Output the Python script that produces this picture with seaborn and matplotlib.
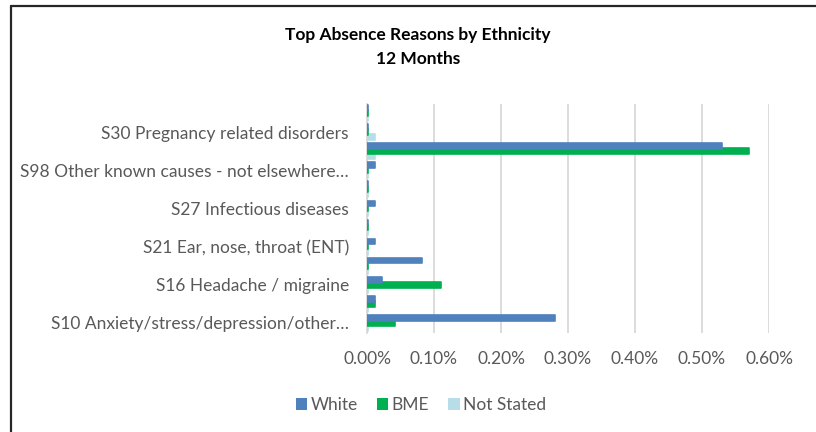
import matplotlib
matplotlib.use("Agg")
import matplotlib.pyplot as plt
from matplotlib.lines import Line2D
from matplotlib.patches import Patch
import seaborn as sns
import pandas as pd

# Absence reasons, top of chart first
reasons = [
    "S13 Cold, Cough, Flu - Influenza",
    "S30 Pregnancy related disorders",
    "S11 Back Problems",
    "S98 Other known causes - not elsewhere…",
    "S28 Injury, fracture",
    "S27 Infectious diseases",
    "S25 Gastrointestinal problems",
    "S21 Ear, nose, throat (ENT)",
    "S17 Benign and malignant tumours, cancers",
    "S16 Headache / migraine",
    "S12 Other musculoskeletal problems",
    "S10 Anxiety/stress/depression/other…",
]
# Which reasons get an axis label (every other one)
show_label = [False, True] * 6

# Absence rate (%) by ethnic group
white = [0.002, 0.002, 0.530, 0.012, 0.002, 0.012, 0.002, 0.012, 0.082, 0.022, 0.012, 0.281]
bme = [0.002, 0.002, 0.570, 0.002, 0.002, 0.002, 0.002, 0.002, 0.002, 0.111, 0.012, 0.042]
not_stated = [0.001, 0.012, 0.012, 0.001, 0.001, 0.001, 0.001, 0.001, 0.001, 0.001, 0.001, 0.001]

groups = ["White", "BME", "Not Stated"]
colors = ["#4f81bd", "#00b050", "#b7dee8"]
x_ticks = [0.0, 0.1, 0.2, 0.3, 0.4, 0.5, 0.6]

df = pd.DataFrame({
    "reason": reasons * 3,
    "value": white + bme + not_stated,
    "ethnicity": [g for g in groups for _ in reasons],
})

sns.set_theme(style="white")
plt.rcParams["font.family"] = ["Lato", "DejaVu Sans"]
FS = 12.5

fig = plt.figure(figsize=(8.16, 4.32), dpi=100)
ax = fig.add_axes([367 / 816, 1 - 332.5 / 432, (769 - 367) / 816, (332.5 - 103.5) / 432])

sns.barplot(
    data=df, x="value", y="reason", hue="ethnicity", orient="h",
    hue_order=groups, palette=colors, dodge=True, width=0.8,
    errorbar=None, legend=False, ax=ax, saturation=1,
)

# Overlapping clustered bars: widen each bar about its centre, White on top,
# with a soft same-colour rim
for container, col, z in zip(ax.containers, colors, [3.2, 3.1, 3.0]):
    for bar in container:
        c = bar.get_y() + bar.get_height() / 2
        h = 0.30
        bar.set_y(c - h / 2)
        bar.set_height(h)
        bar.set_zorder(z)
        bar.set_edgecolor(col)
        bar.set_linewidth(1.2)
        bar.set_joinstyle("round")

ax.set_xlim(0, 0.6)
ax.set_xticks(x_ticks)
ax.set_xticklabels([f"{t:.2f}%" for t in x_ticks])
ax.set_yticks(range(len(reasons)))
ax.set_yticklabels([r if s else "" for r, s in zip(reasons, show_label)])
ax.set_ylim(len(reasons) - 0.5, -0.5)
ax.set_xlabel("")
ax.set_ylabel("")

ax.grid(axis="x", color="#d9d9d9", linewidth=1.3, zorder=0)
ax.grid(axis="y", visible=False)
ax.set_axisbelow(True)
for side in ["top", "right", "bottom"]:
    ax.spines[side].set_visible(False)
ax.spines["left"].set_color("#d9d9d9")
ax.spines["left"].set_linewidth(1.3)
ax.tick_params(axis="x", length=0, pad=13, labelsize=FS, labelcolor="#595959")
ax.tick_params(axis="y", length=0, pad=13, labelsize=FS, labelcolor="#595959")

fig.text(418 / 816, 1 - 35 / 432, "Top Absence Reasons by Ethnicity", ha="center", va="center",
         fontsize=FS, fontweight="bold", color="#000000")
fig.text(418 / 816, 1 - 59 / 432, "12 Months", ha="center", va="center",
         fontsize=FS, fontweight="bold", color="#000000")

handles = [Patch(facecolor=c, edgecolor="none") for c in colors]
fig.legend(handles, groups, loc="center", bbox_to_anchor=(421 / 816, 1 - 405 / 432),
           ncol=3, frameon=False, fontsize=FS, labelcolor="#595959",
           handlelength=0.65, handleheight=0.65, handletextpad=0.2, columnspacing=1.1)

# Chart frame
fx = 11 / 816
fy = 1 - 6 / 432
fig.add_artist(Line2D([fx, fx], [0, fy], transform=fig.transFigure, color="#262626", linewidth=1.6))
fig.add_artist(Line2D([fx, 1], [fy, fy], transform=fig.transFigure, color="#262626", linewidth=1.6))

fig.savefig("out.png", dpi=100)
